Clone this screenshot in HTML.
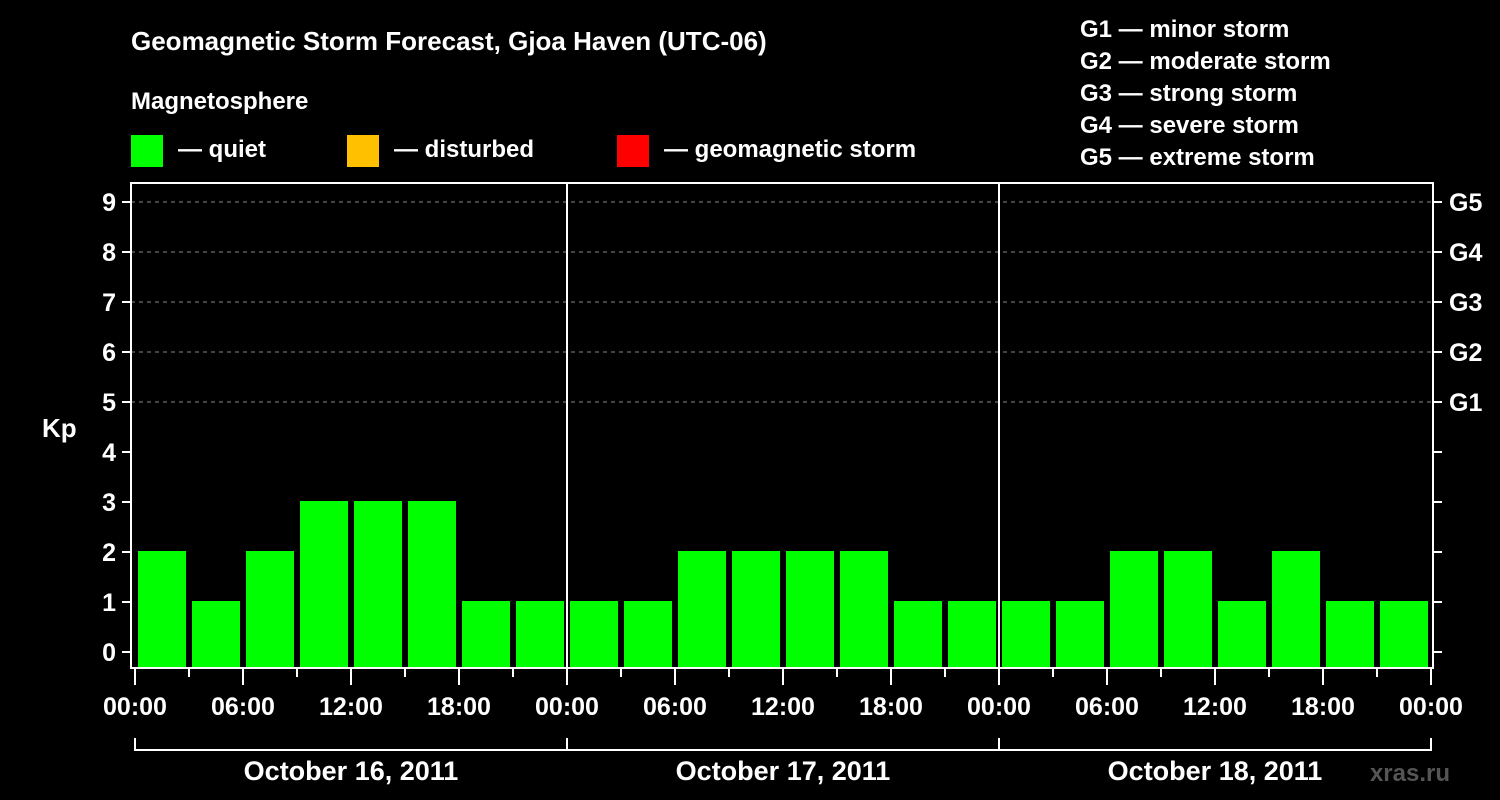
<!DOCTYPE html>
<html><head><meta charset="utf-8"><style>
html,body{margin:0;padding:0;background:#000;}
svg{display:block;font-family:"Liberation Sans",Arial,sans-serif;font-weight:bold;}
</style></head><body>
<svg id="c" width="1500" height="800" xmlns="http://www.w3.org/2000/svg">
<rect width="1500" height="800" fill="#000"/>
<text x="131" y="50" fill="#fff" font-size="26">Geomagnetic Storm Forecast, Gjoa Haven (UTC-06)</text>
<text x="131" y="109" fill="#fff" font-size="24">Magnetosphere</text>
<g><rect x="131" y="135" width="32" height="32" fill="#00ff00"/><text x="178" y="157" fill="#fff" font-size="24">— quiet</text></g>
<g><rect x="347" y="135" width="32" height="32" fill="#ffc000"/><text x="394" y="157" fill="#fff" font-size="24">— disturbed</text></g>
<g><rect x="617" y="135" width="32" height="32" fill="#ff0000"/><text x="664" y="157" fill="#fff" font-size="24">— geomagnetic storm</text></g>
<g fill="#fff" font-size="24">
<text x="1080" y="37">G1 — minor storm</text>
<text x="1080" y="69">G2 — moderate storm</text>
<text x="1080" y="101">G3 — strong storm</text>
<text x="1080" y="133">G4 — severe storm</text>
<text x="1080" y="165">G5 — extreme storm</text>
</g>
<text x="42" y="437" fill="#fff" font-size="26">Kp</text>
<text x="1450" y="781" fill="#555" font-size="24" text-anchor="end">xras.ru</text>
<g id="grid"></g><g id="bars"></g><g id="axes"></g>
</svg>
<script>
const kpValues = [2,1,2,3,3,3,1,1, 1,1,2,2,2,2,1,1, 1,1,2,2,1,2,1,1];
const dayLabels = ["October 16, 2011","October 17, 2011","October 18, 2011"];
const hourLabels = ["00:00","06:00","12:00","18:00"];
const gLabels = ["G1","G2","G3","G4","G5"];
const NS="http://www.w3.org/2000/svg";
const X0=135, SLOT=54, Y0=652, UNIT=50, L=131, R=1433, T=183, B=668;
const xs = i => X0 + i*SLOT;
const ys = v => Y0 - v*UNIT;
function mk(tag, attrs, parent, txt){const e=document.createElementNS(NS,tag);for(const k in attrs)e.setAttribute(k,attrs[k]);if(txt!==undefined)e.textContent=txt;document.getElementById(parent).appendChild(e);return e;}
// grid dashed lines 5..9
for(let v=5;v<=9;v++){
  const e=mk('line',{x1:L,x2:R,y1:ys(v),y2:ys(v),stroke:'#888','stroke-dasharray':'4,4','stroke-width':1},'grid');
  
  
}
// bars
kpValues.forEach((v,i)=>{
  const col = v>=5?'#ff0000':(v>=4?'#ffc000':'#00ff00');
  const top = ys(v)-1;
  const e=mk('rect',{x:xs(i)+3,y:top,width:48,height:B-1-top,fill:col},'bars');
  
  
});
// frame
const fr=mk('rect',{x:L,y:T,width:R-L,height:B-T,fill:'none',stroke:'#fff','stroke-width':2},'axes');


// day separators
for(let d=1;d<dayLabels.length;d++){
  const x=xs(d*8);
  const e=mk('line',{x1:x,x2:x,y1:T,y2:B,stroke:'#fff','stroke-width':2},'axes');
  
  
}
// y ticks & labels
for(let v=0;v<=9;v++){
  const y=ys(v);
  mk('line',{x1:122,x2:L,y1:y,y2:y,stroke:'#fff','stroke-width':2},'axes');
  const t=mk('text',{x:116,y:y+9,fill:'#fff','font-size':25,'text-anchor':'end'},'axes',String(v));
  
  
  mk('line',{x1:R,x2:1442,y1:y,y2:y,stroke:'#fff','stroke-width':2},'axes');
}
gLabels.forEach((g,i)=>{
  const t=mk('text',{x:1449,y:ys(5+i)+9,fill:'#fff','font-size':25},'axes',g);
  
  
});
// x ticks
for(let i=0;i<=kpValues.length;i++){
  const x=xs(i), major=i%2===0;
  mk('line',{x1:x,x2:x,y1:B,y2:major?685:677,stroke:'#fff','stroke-width':2},'axes');
  if(major){
    const t=mk('text',{x:x,y:715,fill:'#fff','font-size':25,'text-anchor':'middle'},'axes',hourLabels[(i/2)%4]);
    
    
  }
}
// day brackets
dayLabels.forEach((d,k)=>{
  const a=xs(k*8), b=xs(k*8+8);
  mk('path',{d:`M${a} 738V750H${b}V738`,stroke:'#fff','stroke-width':2,fill:'none'},'axes');
  const t=mk('text',{x:(a+b)/2,y:780,fill:'#fff','font-size':27,'text-anchor':'middle'},'axes',d);
  
  
});
</script>
</body></html>
